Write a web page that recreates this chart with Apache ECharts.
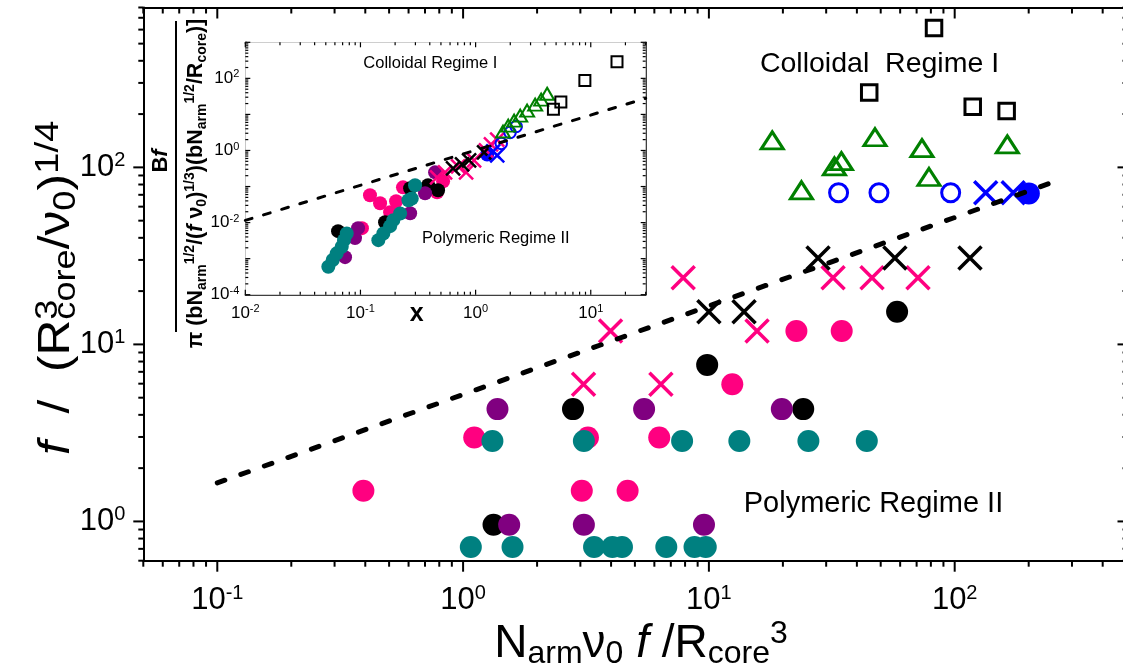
<!DOCTYPE html>
<html><head><meta charset="utf-8">
<script src="https://cdn.jsdelivr.net/npm/echarts@6/dist/echarts.min.js"></script>
<style>html,body{margin:0;padding:0;background:#fff}#c{width:1123px;height:672px}</style>
</head><body><div id="c"></div>
<script>
// ---------------- DATA (main plot) ----------------
const mainSquare = [[82.4,613],[44.9,265],[118.4,220],[162.7,208]];
const mainTriangle = [[18.1,142],[47.4,148],[73.6,128.5],[163.7,134.9],[34.6,108.5],[32.4,101.3],[78.6,88.2],[23.8,74.2]];
const mainOpenCircle = [[33.7,71.9],[49.2,71.9],[96.3,71.9]];
const mainBlueX = [[133.7,71.9],[173,71.9]];
const mainBlueDot = [[200.3,71.3]];
const mainBlackX = [[27.8,30.8],[57.1,30.8],[115.4,30.8],[10.0,15.3],[13.9,15.3]];
const mainPinkX = [[7.86,23.8],[32.0,23.8],[46.1,23.8],[70.9,23.8],[3.98,11.9],[15.7,11.9],[3.09,5.96],[6.38,5.96]];
const mainPinkDot = [[22.7,11.9],[34.7,11.9],[12.45,5.96],[1.11,2.98],[3.22,2.98],[6.28,2.98],[3.04,1.49],[4.67,1.49],[0.393,1.49]];
const mainBlackDot = [[58.3,15.3],[9.84,7.66],[2.80,4.31],[24.2,4.31],[1.33,0.958]];
const mainPurpleDot = [[1.38,4.31],[5.45,4.31],[19.8,4.31],[1.54,0.958],[3.10,0.958],[9.55,0.958]];
const mainTealDot = [[1.316,2.85],[3.10,2.85],[7.78,2.85],[13.3,2.85],[25.4,2.85],[43.9,2.85],
  [1.075,0.717],[1.589,0.717],[3.41,0.717],[4.05,0.717],[4.43,0.717],[6.71,0.717],[8.74,0.717],[9.71,0.717]];
const mainFitLine = [[0.1,1.65],[260,84]];

// ---------------- DATA (inset) ----------------
const insetSquare = [[16.9,287],[8.89,87.5],[5.50,22.1],[4.74,13.8]];
const insetTriangle = [[4.18,37.5],[3.71,25.6],[3.29,18.7],[2.80,12.7],[2.44,9.26],[2.16,6.74],[1.92,4.91],[1.73,3.35]];
const insetOpenCircle = [[2.25,4.6],[1.99,3.14],[1.67,1.56]];
const insetBlueX = [[1.42,0.94],[1.54,0.73]];
const insetBlueDot = [[1.26,0.775]];
const insetBlackX = [[0.637,0.318],[0.763,0.41],[0.878,0.53],[1.185,0.88]];
const insetPinkX = [[0.543,0.247],[0.705,0.361],[0.827,0.247],[0.97,0.53],[1.23,1.0],[1.36,1.47],[1.54,2.01],[0.463,0.18]];
const insetPinkDot = [[0.121,0.0571],[0.234,0.095],[0.204,0.039],[0.181,0.0194],[0.103,0.0070],[0.463,0.069],[0.522,0.139],[0.364,0.0785],[0.148,0.0343]];
const insetBlackDot = [[0.0639,0.00579],[0.1636,0.01026],[0.27,0.0892],[0.3867,0.108],[0.472,0.0785]];
const insetPurpleDot = [[0.0953,0.0070],[0.0897,0.00371],[0.0735,0.0011],[0.27,0.0182],[0.364,0.0649],[0.4446,0.247]];
const insetTealDot = [[0.0526,0.000597],[0.0574,0.000915],[0.0622,0.0014],[0.0688,0.00213],[0.072,0.00326],[0.076,0.005],
  [0.143,0.00326],[0.158,0.005],[0.181,0.00796],[0.193,0.0117],[0.221,0.0178],[0.261,0.0416],[0.298,0.108],[0.279,0.0463]];
const insetFitLine = [[0.01,0.0115],[30,28]];

// ---------------- AXES / TICKS ----------------
const mainXRange = [0.05, 500], mainYRange = [0.6, 800];
const insetXRange = [0.01, 30], insetYRange = [1e-4, 1000];
const mainXMajor = [0.1, 1, 10, 100], mainYMajor = [1, 10, 100];
const insetXMajor = [0.01, 0.1, 1, 10], insetYMajor = [1e-4, 1e-3, 1e-2, 1e-1, 1, 10, 100, 1000];

function minorTicks(range) {
  const out = [];
  for (let k = -5; k <= 4; k++) for (let m = 2; m <= 9; m++) {
    const v = m * Math.pow(10, k);
    if (v >= range[0] * 0.9999 && v <= range[1] * 1.0001) out.push(v);
  }
  return out;
}

const FONT = "'Liberation Sans', Arial, Helvetica, sans-serif";
const C = {pink:'#FF0080', purple:'#800080', teal:'#008080', green:'#008000', blue:'#0000FF', black:'#000000'};

function powFmt(everyOther) {
  return function (v) {
    const lg = Math.log10(v), e = Math.round(lg);
    if (Math.abs(lg - e) > 1e-6) return '';
    if (everyOther && e % 2 !== 0) return '';
    return '{b|10}{s|' + e + '}';
  };
}

function logAxis(gridIndex, position, range, lw, label) {
  return {
    type: 'log', logBase: 10, gridIndex, position, min: range[0], max: range[1],
    axisLine: {show: true, onZero: false, lineStyle: {color: '#000', width: lw}},
    axisTick: {show: false}, minorTick: {show: false},
    splitLine: {show: false}, minorSplitLine: {show: false},
    axisLabel: label || {show: false}
  };
}

const mainLabelRich = {
  b: {fontSize: 31, lineHeight: 34, fontFamily: FONT, color: '#000'},
  s: {fontSize: 20, lineHeight: 22, verticalAlign: 'top', fontFamily: FONT, color: '#000'}
};
const insetLabelRich = {
  b: {fontSize: 17, lineHeight: 19, fontFamily: FONT, color: '#000'},
  s: {fontSize: 11, lineHeight: 10, verticalAlign: 'top', fontFamily: FONT, color: '#000'}
};

function tickSeries(xi, yi, xMaj, xMin, yMaj, yMin, xA, yA, cfg) {
  const data = [];
  xMaj.forEach(v => data.push([v, yA, 0]));
  xMin.forEach(v => data.push([v, yA, 1]));
  yMaj.forEach(v => data.push([xA, v, 2]));
  yMin.forEach(v => data.push([xA, v, 3]));
  return {
    type: 'custom', xAxisIndex: xi, yAxisIndex: yi, data, silent: true, clip: false, z: 6,
    renderItem: function (params, api) {
      const cs = params.coordSys;
      const k = api.value(2);
      const p = api.coord([api.value(0), api.value(1)]);
      const st = {stroke: '#000', lineWidth: cfg.lw};
      const L = [];
      if (k < 2) {
        const x = p[0], b = cs.y + cs.height, t = cs.y;
        const lb = cfg.bottom[k], lt = cfg.top[k];
        L.push({type: 'line', shape: {x1: x, y1: b, x2: x, y2: b + lb}, style: st});
        L.push({type: 'line', shape: {x1: x, y1: t, x2: x, y2: t + lt}, style: st});
      } else {
        const y = p[1], l = cs.x, r = cs.x + cs.width;
        const ll = cfg.left[k - 2], lr = cfg.right[k - 2];
        L.push({type: 'line', shape: {x1: l, y1: y, x2: l + ll, y2: y}, style: st});
        L.push({type: 'line', shape: {x1: r, y1: y, x2: r + lr, y2: y}, style: st});
      }
      return {type: 'group', children: L};
    }
  };
}

function sc(data, kind, color, inset) {
  const s = {type: 'scatter', data, xAxisIndex: inset ? 2 : 0, yAxisIndex: inset ? 2 : 0,
    silent: true, z: 3, emphasis: {disabled: true}};
  if (kind === 'dot') { s.symbol = 'circle'; s.symbolSize = inset ? 14 : 22; s.itemStyle = {color, opacity: 1}; }
  if (kind === 'ring') { s.symbol = 'circle'; s.symbolSize = inset ? 11.5 : 18; s.itemStyle = {color: 'transparent', borderColor: color, borderWidth: inset ? 2 : 3, opacity: 1}; }
  if (kind === 'square') { s.symbol = 'rect'; s.symbolSize = inset ? 11 : 15.5; s.itemStyle = {color: 'transparent', borderColor: color, borderWidth: inset ? 2 : 3, opacity: 1}; }
  if (kind === 'tri') { s.symbol = 'triangle'; s.symbolSize = inset ? [14, 12] : [22, 17]; s.itemStyle = {color: 'transparent', borderColor: color, borderWidth: inset ? 2 : 3, opacity: 1}; }
  if (kind === 'x') { s.symbol = 'path://M0,0L10,10M10,0L0,10'; s.symbolSize = inset ? 14 : 23; s.itemStyle = {color: 'transparent', borderColor: color, borderWidth: inset ? 2.5 : 3.5, opacity: 1}; }
  return s;
}

const chart = echarts.init(document.getElementById('c'), null, {renderer: 'canvas', width: 1123, height: 672});

const option = {
  backgroundColor: '#fff',
  animation: false,
  grid: [
    {left: 143.3, top: 7.5, right: -3.5, bottom: 111.3, containLabel: false, outerBoundsMode: 'none'},
    {left: 245.3, top: 42.3, right: 477.3, bottom: 377.3, containLabel: false, outerBoundsMode: 'none',
     show: true, backgroundColor: '#fff', borderWidth: 0, z: 2}
  ],
  xAxis: [
    logAxis(0, 'bottom', mainXRange, 2, {show: true, margin: 23, formatter: powFmt(false), rich: mainLabelRich}),
    logAxis(0, 'top', mainXRange, 2),
    logAxis(1, 'bottom', insetXRange, 1.5, {show: true, margin: 9, formatter: powFmt(false), rich: insetLabelRich}),
    logAxis(1, 'top', insetXRange, 1.5)
  ],
  yAxis: [
    logAxis(0, 'left', mainYRange, 2, {show: true, margin: 18, formatter: powFmt(false), rich: mainLabelRich}),
    logAxis(0, 'right', mainYRange, 2),
    logAxis(1, 'left', insetYRange, 1.5, {show: true, margin: 6, formatter: powFmt(true), rich: insetLabelRich}),
    logAxis(1, 'right', insetYRange, 1.5)
  ],
  series: [
    tickSeries(0, 0, mainXMajor, minorTicks(mainXRange), mainYMajor, minorTicks(mainYRange), mainXRange[0], mainYRange[0],
      {lw: 2, bottom: [11, 6], top: [11, 6], left: [-10, -5], right: [-9, -4]}),
    tickSeries(2, 2, insetXMajor, minorTicks(insetXRange), insetYMajor, minorTicks(insetYRange), insetXRange[0], insetYRange[0],
      {lw: 1.2, bottom: [-5, -3], top: [5, 3], left: [5, 3], right: [-5, -3]}),
    // main
    sc(mainPinkDot, 'dot', C.pink), sc(mainBlackDot, 'dot', C.black), sc(mainPurpleDot, 'dot', C.purple),
    sc(mainTealDot, 'dot', C.teal), sc(mainBlueDot, 'dot', C.blue),
    sc(mainPinkX, 'x', C.pink), sc(mainBlackX, 'x', C.black), sc(mainBlueX, 'x', C.blue),
    sc(mainOpenCircle, 'ring', C.blue), sc(mainTriangle, 'tri', C.green), sc(mainSquare, 'square', C.black),
    {type: 'line', data: mainFitLine, xAxisIndex: 0, yAxisIndex: 0, symbol: 'none', silent: true, z: 4,
     lineStyle: {color: '#000', width: 5, type: [8, 17], cap: 'round'}},
    // inset
    sc(insetPinkDot, 'dot', C.pink, true), sc(insetBlackDot, 'dot', C.black, true), sc(insetPurpleDot, 'dot', C.purple, true),
    sc(insetTealDot, 'dot', C.teal, true), sc(insetBlueDot, 'dot', C.blue, true),
    sc(insetPinkX, 'x', C.pink, true), sc(insetBlackX, 'x', C.black, true), sc(insetBlueX, 'x', C.blue, true),
    sc(insetOpenCircle, 'ring', C.blue, true), sc(insetTriangle, 'tri', C.green, true), sc(insetSquare, 'square', C.black, true),
    {type: 'line', data: insetFitLine, xAxisIndex: 2, yAxisIndex: 2, symbol: 'none', silent: true, z: 4,
     lineStyle: {color: '#000', width: 3, type: [7, 12], cap: 'round'}}
  ],
  graphic: [
    {type: 'text', x: 641, y: 644, z: 10, style: {
      text: '{m|N}{sb|arm}{m|ν}{sb|0}{m| }{i|f}{m| /R}{sb|core}{sp|3}',
      align: 'center', verticalAlign: 'middle', fill: '#000',
      rich: {
        m: {fontSize: 46, lineHeight: 52, fontFamily: FONT},
        i: {fontSize: 46, lineHeight: 52, fontFamily: FONT, fontStyle: 'italic'},
        sb: {fontSize: 32, lineHeight: 19, verticalAlign: 'bottom', fontFamily: FONT},
        sp: {fontSize: 32, lineHeight: 25, verticalAlign: 'top', fontFamily: FONT}
      }}},
    {type: 'text', x: 57, y: 455, rotation: Math.PI / 2, scaleX: 1.13, z: 10, style: {
      text: '{i|f}{m|  /  (R}{s0|3}{sb|core}{m|/ν}{sb|0}{m|)}{sp|1/4}',
      align: 'left', verticalAlign: 'middle', fill: '#000',
      rich: {
        m: {fontSize: 44, lineHeight: 50, fontFamily: FONT, align: 'left'},
        i: {fontSize: 44, lineHeight: 50, fontFamily: FONT, fontStyle: 'italic', align: 'left'},
        sb: {fontSize: 32, lineHeight: 18, verticalAlign: 'bottom', fontFamily: FONT, align: 'left'},
        sp: {fontSize: 34, lineHeight: 25, verticalAlign: 'top', fontFamily: FONT, align: 'left'},
        s0: {fontSize: 32, lineHeight: 25, verticalAlign: 'top', fontFamily: FONT, width: 0, align: 'left'}
      }}},
    {type: 'text', x: 879.5, y: 64, z: 10, style: {text: 'Colloidal  Regime I', font: '28.5px ' + FONT, fill: '#000', align: 'center', verticalAlign: 'middle'}},
    {type: 'text', x: 873.5, y: 503.5, z: 10, style: {text: 'Polymeric Regime II', font: '29px ' + FONT, fill: '#000', align: 'center', verticalAlign: 'middle'}},
    {type: 'text', x: 430.3, y: 63.3, z: 10, style: {text: 'Colloidal Regime I', font: '16.5px ' + FONT, fill: '#000', align: 'center', verticalAlign: 'middle'}},
    {type: 'text', x: 495.8, y: 238.3, z: 10, style: {text: 'Polymeric Regime II', font: '16.5px ' + FONT, fill: '#000', align: 'center', verticalAlign: 'middle'}},
    {type: 'text', x: 416.7, y: 314.5, z: 10, style: {text: 'x', font: 'bold 25px ' + FONT, fill: '#000', align: 'center', verticalAlign: 'middle'}},
    {type: 'text', x: 160.5, y: 161, rotation: Math.PI / 2, z: 10, style: {
      text: '{b|B}{bi|f}', align: 'center', verticalAlign: 'middle', fill: '#000',
      rich: {
        b: {fontSize: 22, fontWeight: 'bold', fontFamily: FONT},
        bi: {fontSize: 22, fontWeight: 'bold', fontStyle: 'italic', fontFamily: FONT}
      }}},
    {type: 'line', z: 10, shape: {x1: 176, y1: 21, x2: 176, y2: 332}, style: {stroke: '#000', lineWidth: 2}},
    {type: 'text', x: 196, y: 183.5, rotation: Math.PI / 2, z: 10, style: {
      text: '{b|π (bN}{sb|arm}{sp|1/2}{b|/(}{bi|f}{b| ν}{sb|0}{b|)}{sp|1/3}{b|)(bN}{sb|arm}{sp|1/2}{b|/R}{sb|core}{b|)]}',
      align: 'center', verticalAlign: 'middle', fill: '#000',
      rich: {
        b: {fontSize: 21.5, lineHeight: 26, fontWeight: 'bold', fontFamily: FONT},
        bi: {fontSize: 21.5, lineHeight: 26, fontWeight: 'bold', fontStyle: 'italic', fontFamily: FONT},
        sb: {fontSize: 14, lineHeight: 10.5, verticalAlign: 'bottom', fontWeight: 'bold', fontFamily: FONT},
        sp: {fontSize: 14, lineHeight: 10, verticalAlign: 'top', fontWeight: 'bold', fontFamily: FONT}
      }}}
  ]
};
chart.setOption(option);
</script>
</body></html>
